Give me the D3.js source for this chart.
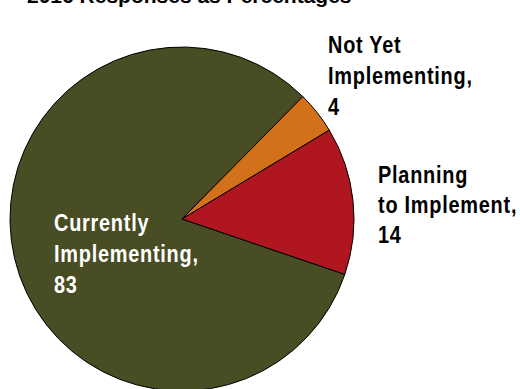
<!DOCTYPE html>
<html>
<head>
<meta charset="utf-8">
<script src="https://cdn.jsdelivr.net/npm/d3@7"></script>
<style>
  html, body { margin: 0; padding: 0; background: #ffffff; }
  svg { display: block; }
  text { font-family: "Liberation Sans", Arial, sans-serif; font-weight: bold; }
</style>
</head>
<body>
<svg id="chart" width="520" height="389"></svg>
<script>
// Implementation status, 2016 responses as percentages
const categories = ["Currently Implementing", "Not Yet Implementing", "Planning to Implement"];
const values = [83, 4, 14];
const colors = ["#494d23", "#d2711a", "#b0161f"];
// Label lines per slice (the value is appended as the last line)
const labelLines = [
  ["Currently", "Implementing,"],
  ["Not Yet", "Implementing,"],
  ["Planning", "to Implement,"]
];
const title = "2016 Responses as Percentages";

const svg = d3.select("#chart");
const cx = 182, cy = 219, r = 172;

svg.append("text")
  .attr("x", 27)
  .attr("y", 3)
  .attr("font-size", 21)
  .attr("fill", "#000")
  .text(title);

const startDeg = 108.8;
const pie = d3.pie()
  .sort(null)
  .value(d => d)
  .startAngle(startDeg * Math.PI / 180)
  .endAngle(startDeg * Math.PI / 180 + 2 * Math.PI);

const arcs = pie(values);
const arc = d3.arc().innerRadius(0).outerRadius(r);

const g = svg.append("g").attr("transform", `translate(${cx},${cy})`);
g.selectAll("path")
  .data(arcs)
  .join("path")
  .attr("d", arc)
  .attr("fill", (d, i) => colors[i])
  .attr("stroke", "#000")
  .attr("stroke-width", 1)
  .attr("stroke-linejoin", "round");

// Label anchors (baseline of first line) and text colours
const labelPos = [
  { x: 54, y: 231, fill: "#ffffff", lh: 31 },
  { x: 328, y: 53, fill: "#000000", lh: 31 },
  { x: 378, y: 183, fill: "#000000", lh: 30 }
];
// Condensed bold face: horizontally squeezed glyphs with slightly open tracking
const squeeze = 0.83;

categories.forEach((c, i) => {
  const p = labelPos[i];
  const lines = labelLines[i].concat([String(values[i])]);
  const lg = svg.append("g")
    .attr("transform", `translate(${p.x},${p.y}) scale(${squeeze},1)`);
  const t = lg.append("text")
    .attr("font-size", 24)
    .attr("letter-spacing", 0.9)
    .attr("fill", p.fill);
  lines.forEach((ln, k) => {
    t.append("tspan")
      .attr("x", 0)
      .attr("y", k * p.lh)
      .text(ln);
  });
});
</script>
</body>
</html>
